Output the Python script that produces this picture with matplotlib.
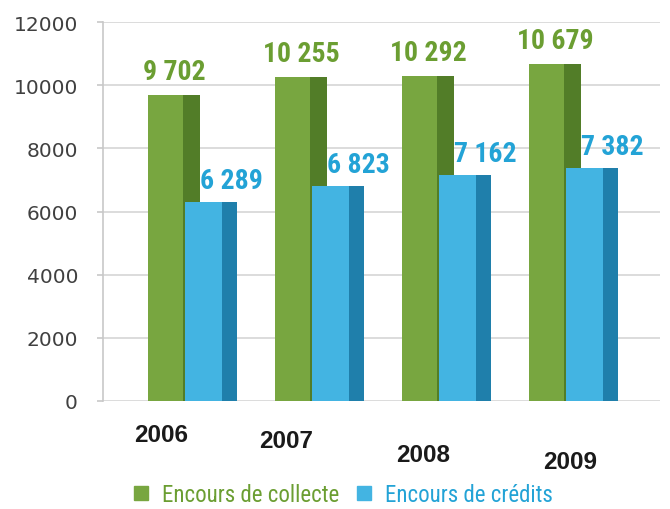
import matplotlib
matplotlib.use('Agg')
import matplotlib.pyplot as plt
import numpy as np
from matplotlib.transforms import offset_copy, blended_transform_factory
from matplotlib.lines import Line2D

# ---- data ----
years = ['2006', '2007', '2008', '2009']
collecte = [9702, 10255, 10292, 10679]
credits = [6289, 6823, 7162, 7382]
collecte_labels = ['9 702', '10 255', '10 292', '10 679']
credits_labels = ['6 289', '6 823', '7 162', '7 382']
series_names = ['Encours de collecte', 'Encours de crédits']
yticks = [0, 2000, 4000, 6000, 8000, 10000, 12000]

# ---- style ----
GREEN = '#78a640'
GREEN_SIDE = '#527d28'
BLUE = '#43b4e2'
BLUE_SIDE = '#1f7fab'
GREEN_TXT = '#6b9e32'
BLUE_TXT = '#23a3d6'
NARROW = ['Roboto Condensed', 'Liberation Sans', 'DejaVu Sans']

W, H = 670, 510
fig = plt.figure(figsize=(W / 100, H / 100), dpi=100)
ax = fig.add_axes([103 / W, 1 - 402 / H, 557 / W, 379 / H])

px = 127.0  # pixels per category unit
x0 = -0.3 - 45 / px
ax.set_xlim(x0, x0 + 557 / px)
ax.set_ylim(0, 12000)

x = np.arange(len(years))
gw, gs = 35 / px, 17 / px
bw, bs = 37 / px, 15 / px
g_left = x - 0.3
b_left = g_left + 37 / px

# grid
ax.set_yticks(yticks)
ax.yaxis.grid(True, color='#d6d6d6', lw=1.2)
ax.set_axisbelow(True)
for s in ['top', 'right', 'bottom']:
    ax.spines[s].set_visible(False)
ax.spines['left'].set_color('#c8c8c8')
ax.spines['left'].set_linewidth(1.2)
ax.tick_params(axis='y', length=4, width=1.2, color='#c8c8c8', pad=14,
               labelsize=14.5, labelcolor='#404040')
ax.set_xticks([])

# bars (front + side faces)
ax.bar(g_left, collecte, width=gw, align='edge', color=GREEN, zorder=2)
ax.bar(g_left + gw, collecte, width=gs, align='edge', color=GREEN_SIDE, zorder=2)
ax.bar(b_left, credits, width=bw, align='edge', color=BLUE, zorder=3)
ax.bar(b_left + bw, credits, width=bs, align='edge', color=BLUE_SIDE, zorder=3)

# value labels
tr_g = offset_copy(ax.transData, fig=fig, x=0, y=10, units='dots')
for xi, v, lab in zip(g_left + (gw + gs) / 2, collecte, collecte_labels):
    ax.text(xi, v, lab, transform=tr_g, ha='center', va='bottom',
            fontsize=20, fontweight='bold', color=GREEN_TXT, family=NARROW)
tr_b = offset_copy(ax.transData, fig=fig, x=20, y=8, units='dots')
for xi, v, lab in zip(b_left + (bw + bs) / 2, credits, credits_labels):
    ax.text(xi, v, lab, transform=tr_b, ha='center', va='bottom',
            fontsize=20, fontweight='bold', color=BLUE_TXT, family=NARROW)

# year labels (slightly staggered like the perspective original)
year_shift = [(-5, 34), (-7, 40), (3, 54), (23, 61)]
blend = blended_transform_factory(ax.transData, ax.transAxes)
for xi, lab, (dx, dy) in zip(g_left + 0.14, years, year_shift):
    t = offset_copy(blend, fig=fig, x=dx, y=-dy, units='dots')
    ax.text(xi, 0, lab, transform=t, ha='center', va='center',
            fontsize=17.5, fontweight='bold', color='#1a1a1a',
            family=['Liberation Sans', 'DejaVu Sans'])

# legend
handles = [Line2D([], [], marker='s', ls='', markersize=10, color=GREEN),
           Line2D([], [], marker='s', ls='', markersize=10, color=BLUE)]
leg = fig.legend(handles, series_names, loc='center', bbox_to_anchor=(0.511, 0.028),
                 ncol=2, frameon=False, handlelength=0.8, handletextpad=0.5,
                 columnspacing=0.7, prop={'family': NARROW, 'size': 16.5})
for t, c in zip(leg.get_texts(), [GREEN_TXT, BLUE_TXT]):
    t.set_color(c)

fig.savefig('out.png', dpi=100)
